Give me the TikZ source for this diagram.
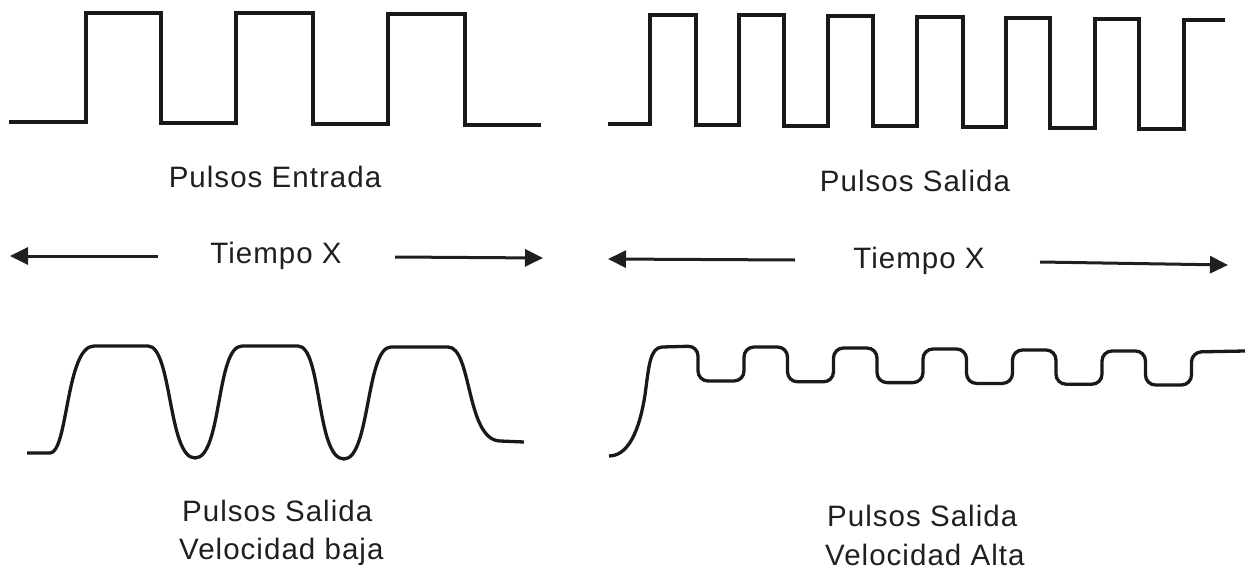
\documentclass[tikz,border=0pt]{standalone}
\usepackage{fontspec}
\setmainfont{Liberation Sans}[LetterSpace=3.5]
\usetikzlibrary{arrows.meta}
\begin{document}
\begin{tikzpicture}[x=1pt,y=-1pt,
  wave/.style={line width=3.3pt, line join=miter, black!90},
  lbl/.style={font=\fontsize{29.5}{35}\selectfont, inner sep=0pt, anchor=base, text=black!88},
  tarrow/.style={line width=3pt, black!88, -{Triangle[length=18pt,width=17pt]}}]
\useasboundingbox (0,0) rectangle (1248,573);

% top-left: input pulses
\draw[wave] (9,122) -- (86,122) -- (86,13) -- (161,13) -- (161,123) -- (236,123)
  -- (236,13) -- (313,13) -- (313,124) -- (388,124) -- (388,14) -- (465,14)
  -- (465,125) -- (541,125);

% top-right: output pulses
\draw[wave] (608,124) -- (650,124) -- (650,15) -- (696,15) -- (696,125) -- (739,125)
  -- (739,15) -- (784,15) -- (784,126) -- (828,126) -- (828,16) -- (873,16)
  -- (873,126) -- (917,126) -- (917,17) -- (963,17) -- (963,127) -- (1006,127)
  -- (1006,18) -- (1050,18) -- (1050,128) -- (1095,128) -- (1095,19) -- (1139,19)
  -- (1139,129) -- (1184,129) -- (1184,20) -- (1225,20);

% bottom-left: low speed
\draw[wave] (27,453) -- (50,453)
  .. controls (68,453) and (66,346) .. (94,346) -- (148,346)
  .. controls (172,346) and (168,458) .. (195,458)
  .. controls (222,458) and (216,346) .. (242,346) -- (298,346)
  .. controls (322,346) and (316,459) .. (344,459)
  .. controls (370,459) and (366,347) .. (391,347) -- (448,347)
  .. controls (472,347) and (466,440) .. (500,441) -- (524,442);

% bottom-right: high speed
\draw[wave] (609,456) .. controls (632,456) and (641,420) .. (645,395)
  .. controls (649,365) and (650,348) .. (662,347)
  [rounded corners=10pt]
  \foreach \k in {0,...,5} {
    -- ({698+89.5*\k},{346+\k}) -- ({698+89.5*\k},{381+0.8*\k})
    -- ({744+89.5*\k},{381+0.8*\k}) -- ({744+89.5*\k},{347+\k})
  } -- (1245,351);

% labels
\node[lbl] (pe) at (275,187) {Pulsos Entrada};
\node[lbl] (ps1) at (915,191) {Pulsos Salida};
\node[lbl] (t1) at (276,263) {Tiempo X};
\node[lbl] (t2) at (919,268) {Tiempo X};
\node[lbl, anchor=base west] (ps2) at (182,521) {Pulsos Salida};
\node[lbl, anchor=base west] (vb) at (179,559) {Velocidad baja};
\node[lbl, anchor=base west] (ps3) at (827,526) {Pulsos Salida};
\node[lbl, anchor=base west] (va) at (825,565) {Velocidad Alta};

% time arrows
\coordinate (a1s) at (158,256);
\coordinate (a1e) at (10,256);
\coordinate (a2s) at (395,257);
\coordinate (a2e) at (543,258);
\coordinate (a3s) at (795,260);
\coordinate (a3e) at (608,259);
\coordinate (a4s) at (1040,262);
\coordinate (a4e) at (1228,265);
\draw[tarrow] (a1s) -- (a1e);
\draw[tarrow] (a2s) -- (a2e);
\draw[tarrow] (a3s) -- (a3e);
\draw[tarrow] (a4s) -- (a4e);
\end{tikzpicture}
\end{document}
